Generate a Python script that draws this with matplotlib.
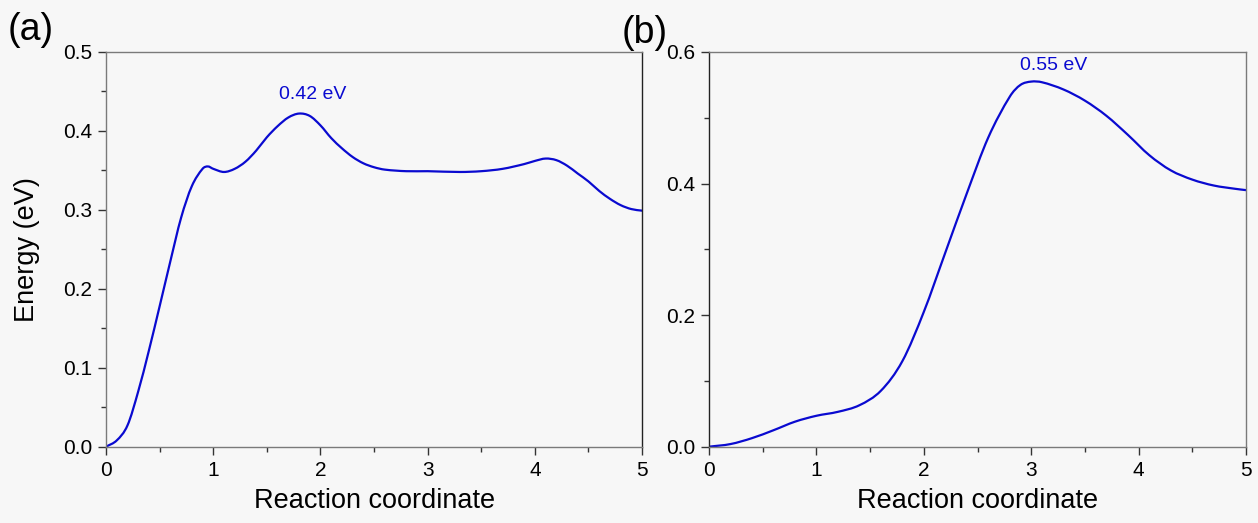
import matplotlib
matplotlib.use("Agg")
import matplotlib.pyplot as plt
from matplotlib.ticker import MultipleLocator, FormatStrFormatter
from matplotlib.path import Path
from matplotlib.patches import PathPatch

plt.rcParams['font.family'] = ['Liberation Sans', 'DejaVu Sans']

# Panel (a)
xa = [0.0, 0.1, 0.2, 0.3, 0.4, 0.5, 0.6, 0.7, 0.8, 0.9, 0.95, 1.0, 1.1, 1.2, 1.3, 1.4,
      1.5, 1.6, 1.7, 1.8, 1.9, 2.0, 2.1, 2.2, 2.3, 2.4, 2.5, 2.6, 2.8, 3.0, 3.3, 3.5,
      3.7, 3.9, 4.0, 4.1, 4.2, 4.3, 4.4, 4.5, 4.6, 4.7, 4.8, 4.9, 5.0]
ya = [0.000, 0.008, 0.027, 0.070, 0.122, 0.178, 0.235, 0.290, 0.330, 0.352, 0.355,
      0.352, 0.348, 0.352, 0.361, 0.375, 0.392, 0.406, 0.417, 0.422, 0.419, 0.407,
      0.391, 0.378, 0.367, 0.359, 0.354, 0.351, 0.349, 0.349, 0.348, 0.349, 0.352,
      0.358, 0.362, 0.365, 0.363, 0.356, 0.346, 0.336, 0.324, 0.314, 0.306, 0.301, 0.299]

# Panel (b)
xb = [0.0, 0.2, 0.4, 0.6, 0.8, 1.0, 1.2, 1.4, 1.6, 1.8, 2.0, 2.2, 2.4, 2.6, 2.8, 2.9,
      3.0, 3.1, 3.3, 3.5, 3.7, 3.9, 4.1, 4.3, 4.5, 4.7, 4.9, 5.0]
yb = [0.000, 0.004, 0.013, 0.025, 0.038, 0.047, 0.053, 0.063, 0.085, 0.130, 0.205,
      0.295, 0.385, 0.470, 0.532, 0.550, 0.555, 0.554, 0.543, 0.526, 0.503, 0.474,
      0.443, 0.420, 0.406, 0.397, 0.392, 0.390]

barrier_a = "0.42 eV"
barrier_b = "0.55 eV"
xlabel = "Reaction coordinate"
ylabel = "Energy (eV)"

bg = '#f7f7f7'
line_c = '#0a0ad0'
spine_c = '#7a7a7a'


def smooth_path(x, y):
    """Catmull-Rom curve through the given points, drawn as cubic Bezier segments."""
    n = len(x)
    verts = [(x[0], y[0])]
    codes = [Path.MOVETO]
    for i in range(n - 1):
        x0, y0 = (x[i - 1], y[i - 1]) if i > 0 else (x[i], y[i])
        x1, y1 = x[i], y[i]
        x2, y2 = x[i + 1], y[i + 1]
        x3, y3 = (x[i + 2], y[i + 2]) if i + 2 < n else (x2, y2)
        h = x2 - x1
        # tangents scaled for non-uniform spacing
        m1 = (y2 - y0) / (x2 - x0) if x2 != x0 else 0.0
        m2 = (y3 - y1) / (x3 - x1) if x3 != x1 else 0.0
        verts += [(x1 + h / 3, y1 + m1 * h / 3), (x2 - h / 3, y2 - m2 * h / 3), (x2, y2)]
        codes += [Path.CURVE4] * 3
    return Path(verts, codes)


fig = plt.figure(figsize=(12.58, 5.23), dpi=100, facecolor=bg)
ax1 = fig.add_axes([0.0843, 0.1459, 0.4261, 0.7547], facecolor=bg)
ax2 = fig.add_axes([0.5636, 0.1459, 0.4269, 0.7547], facecolor=bg)

for ax, x, y, ymax, ymaj in [(ax1, xa, ya, 0.5, 0.1), (ax2, xb, yb, 0.6, 0.2)]:
    ax.add_patch(PathPatch(smooth_path(x, y), facecolor='none', edgecolor=line_c,
                           lw=1.6, capstyle='round', joinstyle='round'))
    ax.set_xlim(0, 5)
    ax.set_ylim(0, ymax)
    ax.xaxis.set_major_locator(MultipleLocator(1))
    ax.xaxis.set_minor_locator(MultipleLocator(0.5))
    ax.yaxis.set_major_locator(MultipleLocator(ymaj))
    ax.yaxis.set_minor_locator(MultipleLocator(ymaj / 2))
    ax.yaxis.set_major_formatter(FormatStrFormatter('%.1f'))
    ax.tick_params(which='major', direction='out', length=6, width=1.0,
                   color='#333333', labelsize=15, pad=4)
    ax.tick_params(which='minor', direction='out', length=3.5, width=1.0, color='#333333')
    for s in ax.spines.values():
        s.set_color(spine_c)
        s.set_linewidth(1.0)
    ax.set_xlabel(xlabel, fontsize=19.5, va='baseline')
    ax.xaxis.set_label_coords(0.5, -0.155)

ax1.spines['right'].set_color('#222222')
ax2.spines['left'].set_color('#222222')

ax1.set_ylabel(ylabel, fontsize=19.5, va='center')
ax1.yaxis.set_label_coords(-0.147, 0.5)

ax1.text(1.93, 0.435, barrier_a, color=line_c, fontsize=14, ha='center', va='bottom')
ax2.text(3.21, 0.566, barrier_b, color=line_c, fontsize=14, ha='center', va='bottom')

fig.text(31 / 1258, 1 - 30 / 523, "(a)", fontsize=27, ha='center', va='center')
fig.text(645 / 1258, 1 - 33 / 523, "(b)", fontsize=27, ha='center', va='center')

fig.savefig("out.png", dpi=100, facecolor=bg)
